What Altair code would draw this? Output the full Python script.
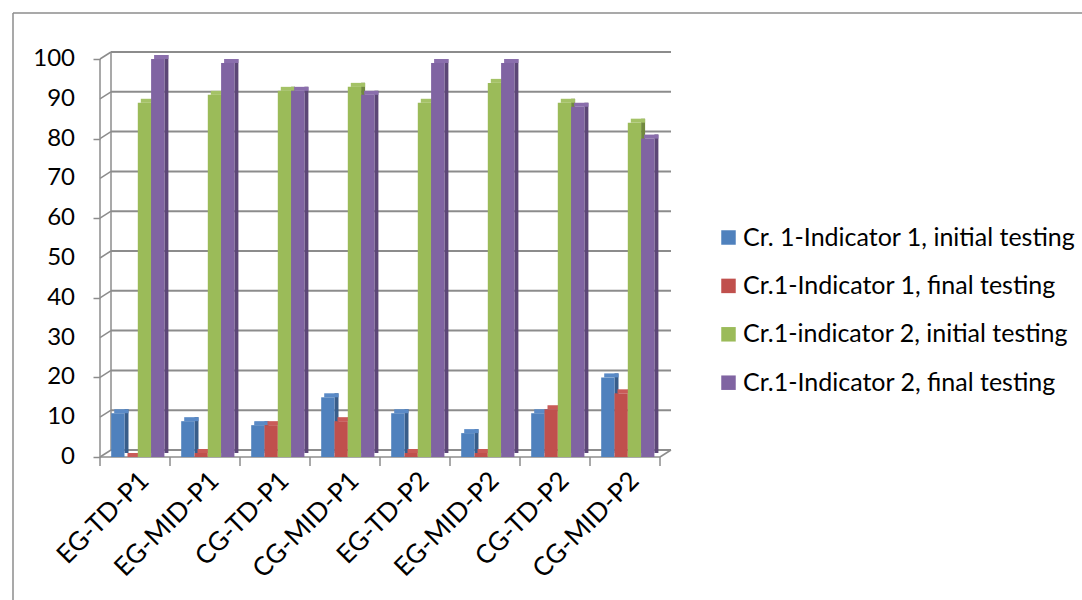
import altair as alt
import pandas as pd

# Groups along the category axis
categories = ["EG-TD-P1", "EG-MID-P1", "CG-TD-P1", "CG-MID-P1",
              "EG-TD-P2", "EG-MID-P2", "CG-TD-P2", "CG-MID-P2"]

series_names = [
    "Cr. 1-Indicator 1, initial testing",
    "Cr.1-Indicator 1, final testing",
    "Cr.1-indicator 2, initial testing",
    "Cr.1-Indicator 2, final testing",
]

ind1_initial = [11, 9, 8, 15, 11, 6, 11, 20]
ind1_final = [0, 1, 8, 9, 1, 1, 12, 16]
ind2_initial = [89, 91, 92, 93, 89, 94, 89, 84]
ind2_final = [100, 99, 92, 91, 99, 99, 88, 80]

front_colors = ["#4F81BD", "#C0504D", "#9BBB59", "#8064A2"]
side_colors = ["#385D8A", "#8C3836", "#71893F", "#5C4776"]
top_colors = ["#5A8AC6", "#C95B58", "#A4C266", "#8A6EAC"]

y_ticks = list(range(0, 101, 10))

FONT = "Lato"
GRID = "#8C8C8C"
DX, DY = 11, -7         # depth of the back wall
BW = 0.19               # bar width in category units
START = 0.16            # first bar start inside a group

all_values = [ind1_initial, ind1_final, ind2_initial, ind2_final]
rows = []
for s, (name, vals) in enumerate(zip(series_names, all_values)):
    for i, (cat, v) in enumerate(zip(categories, vals)):
        x0 = i + START + s * BW
        rows.append(dict(category=cat, series=name, value=v, zero=0,
                         x0=x0, x1=x0 + BW,
                         side=side_colors[s], top=top_colors[s]))
bars = pd.DataFrame(rows)

grid_df = pd.DataFrame({"v": y_ticks, "xa": 0, "xb": len(categories),
                        "label": [str(t) for t in y_ticks]})
bound_df = pd.DataFrame({"b": list(range(len(categories) + 1)), "y0": 0})
floor_df = pd.DataFrame({"xa": [0], "xb": [len(categories)], "y0": [0], "y1": [100]})

xs = alt.Scale(domain=[0, len(categories)], nice=False, zero=False)
ys = alt.Scale(domain=[0, 100], nice=False)

label_expr = "[" + ",".join(f"'{c}'" for c in categories) + "][floor(datum.value)]"

x_axis = alt.Axis(values=[i + 0.5 for i in range(len(categories))],
                  labelExpr=label_expr, labelAngle=-45, labelFontSize=26,
                  labelFont=FONT, labelColor="#000000", ticks=False,
                  labelOverlap=False, domain=False, grid=False,
                  labelPadding=10, title=None)
y_axis = alt.Axis(values=y_ticks, labels=False, tickColor=GRID, tickSize=7,
                  tickWidth=1.5, domain=False, grid=False, title=None)

# back wall gridlines (carry both axes)
grid = alt.Chart(grid_df).mark_rule(color=GRID, strokeWidth=2, xOffset=DX, x2Offset=DX,
                                    yOffset=DY, y2Offset=DY).encode(
    x=alt.X("xa:Q", scale=xs, axis=x_axis), x2="xb:Q",
    y=alt.Y("v:Q", scale=ys, axis=y_axis), y2="v:Q")

# value labels to the left of the front axis
ylabels = alt.Chart(grid_df).mark_text(align="right", baseline="middle", dx=-25,
                                       fontSize=24, font=FONT, color="#000000").encode(
    x=alt.X("xa:Q", scale=xs), y=alt.Y("v:Q", scale=ys), text="label:N")

# short diagonals joining the front axis to the back wall
diag = alt.Chart(grid_df).mark_rule(color=GRID, strokeWidth=1.5, x2Offset=DX, y2Offset=DY).encode(
    x=alt.X("xa:Q", scale=xs), x2="xa:Q",
    y=alt.Y("v:Q", scale=ys), y2="v:Q")

# left edge of the back wall
wall = alt.Chart(floor_df).mark_rule(color=GRID, strokeWidth=1.5, xOffset=DX, x2Offset=DX,
                                     yOffset=DY, y2Offset=DY).encode(
    x=alt.X("xa:Q", scale=xs), y=alt.Y("y0:Q", scale=ys), y2="y1:Q")

# front value axis line
front_axis = alt.Chart(floor_df).mark_rule(color=GRID, strokeWidth=1.5).encode(
    x=alt.X("xa:Q", scale=xs), y=alt.Y("y0:Q", scale=ys), y2="y1:Q")

# front edge of the floor and right corner
floor_front = alt.Chart(floor_df).mark_rule(color=GRID, strokeWidth=1.5).encode(
    x=alt.X("xa:Q", scale=xs), x2="xb:Q", y=alt.Y("y0:Q", scale=ys))
floor_right = alt.Chart(floor_df).mark_rule(color=GRID, strokeWidth=1.5, x2Offset=DX, y2Offset=DY).encode(
    x=alt.X("xb:Q", scale=xs), x2="xb:Q", y=alt.Y("y0:Q", scale=ys), y2="y0:Q")

# category boundary ticks below the floor
bticks = alt.Chart(bound_df).mark_rule(color=GRID, strokeWidth=1.5, y2Offset=9).encode(
    x=alt.X("b:Q", scale=xs), y=alt.Y("y0:Q", scale=ys), y2="y0:Q")

# 3D side faces and top faces of the columns
sides = alt.Chart(bars).mark_rect(x2Offset=4, yOffset=-4, y2Offset=-4).encode(
    x=alt.X("x1:Q", scale=xs), x2="x1:Q",
    y=alt.Y("value:Q", scale=ys), y2="zero:Q",
    color=alt.Color("side:N", scale=None, legend=None))
tops = alt.Chart(bars).mark_rect(xOffset=3, x2Offset=4, yOffset=-4).encode(
    x=alt.X("x0:Q", scale=xs), x2="x1:Q",
    y=alt.Y("value:Q", scale=ys), y2="value:Q",
    color=alt.Color("top:N", scale=None, legend=None))

fronts = alt.Chart(bars).mark_rect().encode(
    x=alt.X("x0:Q", scale=xs), x2="x1:Q",
    y=alt.Y("value:Q", scale=ys), y2="zero:Q",
    color=alt.Color("series:N",
                    scale=alt.Scale(domain=series_names, range=front_colors),
                    legend=alt.Legend(title=None, orient="none", legendX=616, legendY=166,
                                      symbolType="square", symbolSize=210,
                                      symbolStrokeWidth=0, labelFontSize=25,
                                      labelFont=FONT, labelColor="#000000",
                                      rowPadding=22.4, labelOffset=2, labelLimit=500)))

# outer frame
frame = alt.Chart(floor_df).mark_rule(color="#8C8C8C", strokeWidth=1.5).encode(
    x=alt.value(-87), y=alt.value(-46), y2=alt.value(560))
frame_top = alt.Chart(floor_df).mark_rule(color="#8C8C8C", strokeWidth=1.5).encode(
    x=alt.value(-87), x2=alt.value(990), y=alt.value(-46))

chart = alt.layer(
    grid, frame, frame_top, ylabels, diag, wall, front_axis, floor_front, floor_right,
    bticks, sides, tops, fronts,
).resolve_scale(color="independent").properties(
    width=560, height=398,
    padding={"left": 100, "top": 59, "right": 422, "bottom": 143},
    autosize=alt.AutoSizeParams(type="none"),
    background="white",
).configure_view(stroke=None)

chart.save("out.html", embed_options={"renderer": "svg", "actions": False})
